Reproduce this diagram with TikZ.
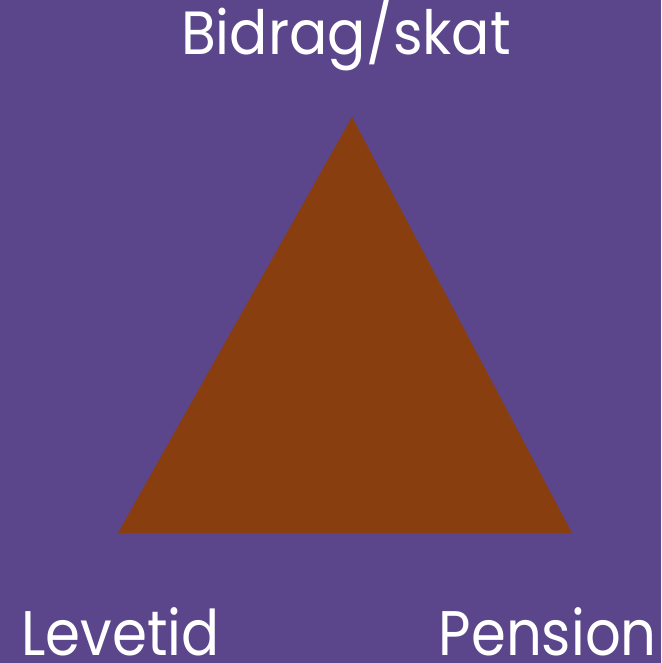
\documentclass[tikz,border=0pt]{standalone}
\usepackage{fontspec}
\setmainfont{Poppins}
\definecolor{bgpurple}{RGB}{91,69,139}
\definecolor{tribrown}{RGB}{137,62,16}
\tikzset{lbl/.style={text=white, inner sep=0pt}}
\begin{document}
\begin{tikzpicture}[x=1pt,y=-1pt]
\fill[bgpurple] (0,0) rectangle (661,663);
\useasboundingbox (0,0) rectangle (661,663);
\coordinate (apex) at (352,117);
\coordinate (bl) at (118,533);
\coordinate (br) at (572,533);
\fill[tribrown] (apex) -- (bl) -- (br) -- cycle;
\node[lbl, anchor=base, font=\fontsize{61}{63}\selectfont] (top) at (346,55) {\scalebox{0.93}[1]{Bidrag/skat}};
\node[lbl, anchor=base west, text depth=0pt, font=\fontsize{63}{65}\selectfont] (left) at (21,655) {\scalebox{0.895}[1]{Levetid}};
\node[lbl, anchor=base east, text depth=0pt, font=\fontsize{63}{65}\selectfont] (right) at (657,655) {\scalebox{0.89}[1]{Pension}};
\end{tikzpicture}
\end{document}
